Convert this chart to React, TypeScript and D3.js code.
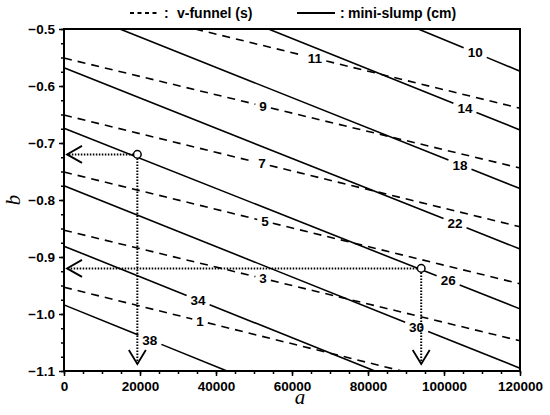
import React from 'react';
import * as d3 from 'd3';

const W = 550;
const H = 415;

const xTicks = [0, 20000, 40000, 60000, 80000, 100000, 120000];
const yTicks = [-0.5, -0.6, -0.7, -0.8, -0.9, -1.0, -1.1];

// mini-slump contours (cm), solid lines: start / end point of each, label position along a
const slumpLevels = [10, 14, 18, 22, 26, 30, 34, 38];
const slumpStartA = [93200, 53800, 14700, 0, 0, 0, 0, 0];
const slumpStartB = [-0.5, -0.5, -0.5, -0.568, -0.674, -0.775, -0.881, -0.984];
const slumpEndA = [120000, 120000, 120000, 120000, 120000, 120000, 81800, 42900];
const slumpEndB = [-0.574, -0.677, -0.780, -0.886, -0.991, -1.095, -1.1, -1.1];
const slumpLabelA = [108200, 105500, 104200, 102900, 101100, 92800, 35300, 22600];

// v-funnel contours (s), dashed lines
const funnelLevels = [11, 9, 7, 5, 3, 1];
const funnelStartA = [34500, 0, 0, 0, 0, 0];
const funnelStartB = [-0.5, -0.551, -0.651, -0.751, -0.853, -0.953];
const funnelEndA = [120000, 120000, 120000, 120000, 120000, 88900];
const funnelEndB = [-0.639, -0.744, -0.847, -0.947, -1.047, -1.1];
const funnelLabelA = [66000, 52400, 52100, 52900, 52400, 35800];

// design points, with dotted read-off lines to the axes
const pointA = [19300, 94000];
const pointB = [-0.72, -0.92];

const FONT = '"Liberation Sans", Arial, sans-serif';

export default function App() {
  const ref = React.useRef<SVGSVGElement>(null);

  React.useEffect(() => {
    const margin = { top: 29, right: 30, bottom: 44, left: 64 };
    const width = W - margin.left - margin.right;
    const height = H - margin.top - margin.bottom;

    const root = d3.select(ref.current);
    root.selectAll('*').remove();
    const svg = root.append('g')
      .attr('transform', `translate(${margin.left},${margin.top})`);

    const x = d3.scaleLinear().domain([0, 120000]).range([0, width]);
    const y = d3.scaleLinear().domain([-1.1, -0.5]).range([height, 0]);

    // minor ticks first
    svg.append('g')
      .attr('transform', `translate(0,${height})`)
      .call(d3.axisBottom(x).tickValues(d3.range(0, 120001, 5000)).tickSize(3).tickSizeOuter(0).tickFormat(() => ''))
      .call(g => g.select('.domain').remove())
      .selectAll('line').attr('stroke-width', 1.5);
    svg.append('g')
      .call(d3.axisLeft(y).tickValues(d3.range(0, 25).map(i => -1.1 + i * 0.025)).tickSize(3).tickSizeOuter(0).tickFormat(() => ''))
      .call(g => g.select('.domain').remove())
      .selectAll('line').attr('stroke-width', 1.5);

    // major ticks with labels
    const xAxis = svg.append('g')
      .attr('transform', `translate(0,${height})`)
      .call(d3.axisBottom(x).tickValues(xTicks).tickSize(5).tickSizeOuter(0).tickPadding(5).tickFormat(d3.format('d')));
    xAxis.select('.domain').remove();
    xAxis.selectAll('line').attr('stroke-width', 1.5);
    xAxis.selectAll('text')
      .attr('fill', 'black')
      .style('font-family', FONT)
      .style('font-weight', 'bold')
      .style('font-size', '13.5px');

    const yAxis = svg.append('g')
      .call(d3.axisLeft(y).tickValues(yTicks).tickSize(5).tickSizeOuter(0).tickPadding(4).tickFormat(d3.format('.1f')));
    yAxis.select('.domain').remove();
    yAxis.selectAll('line').attr('stroke-width', 1.5);
    yAxis.selectAll('text')
      .attr('fill', 'black')
      .style('font-family', FONT)
      .style('font-weight', 'bold')
      .style('font-size', '13.5px');

    // frame
    svg.append('rect')
      .attr('width', width)
      .attr('height', height)
      .attr('fill', 'none')
      .attr('stroke', 'black')
      .attr('stroke-width', 2);

    const plot = svg.append('g');
    const fs = 13.5;

    // line split round its label, like contour labels
    const drawContour = (a0, b0, a1, b1, la, level, dashed) => {
      const p0 = [x(a0), y(b0)];
      const p1 = [x(a1), y(b1)];
      const dx = p1[0] - p0[0];
      const lerp = (t) => [p0[0] + t * dx, p0[1] + t * (p1[1] - p0[1])];
      const t = (x(la) - p0[0]) / dx;
      const half = String(level).length * 0.556 * fs / 2 + 4;
      const t0 = t - half / dx;
      const t1 = t + half / dx;
      const segs = [[p0, lerp(t0)], [lerp(t1), p1]];
      segs.forEach(s => {
        plot.append('path')
          .attr('d', d3.line()(s))
          .attr('fill', 'none')
          .attr('stroke', 'black')
          .attr('stroke-width', 1.6)
          .attr('stroke-dasharray', dashed ? '8,6' : null);
      });
      const lp = lerp(t);
      plot.append('text')
        .attr('x', lp[0])
        .attr('y', lp[1])
        .attr('dy', '0.36em')
        .attr('text-anchor', 'middle')
        .attr('fill', 'black')
        .style('font-family', FONT)
        .style('font-weight', 'bold')
        .style('font-size', `${fs}px`)
        .text(level);
    };

    slumpLevels.forEach((lv, i) =>
      drawContour(slumpStartA[i], slumpStartB[i], slumpEndA[i], slumpEndB[i], slumpLabelA[i], lv, false));
    funnelLevels.forEach((lv, i) =>
      drawContour(funnelStartA[i], funnelStartB[i], funnelEndA[i], funnelEndB[i], funnelLabelA[i], lv, true));

    // dotted guides + arrow heads
    pointA.forEach((a, i) => {
      const px = x(a);
      const py = y(pointB[i]);
      plot.append('line')
        .attr('x1', px - 4).attr('y1', py)
        .attr('x2', 3).attr('y2', py)
        .attr('stroke', 'black')
        .attr('stroke-width', 2)
        .attr('stroke-dasharray', '1.5,1.5');
      plot.append('line')
        .attr('x1', px).attr('y1', py + 4)
        .attr('x2', px).attr('y2', height - 7)
        .attr('stroke', 'black')
        .attr('stroke-width', 2)
        .attr('stroke-dasharray', '1.5,1.5');
      plot.append('path')
        .attr('d', d3.line()([[18, py - 8.5], [3, py], [18, py + 8.5]]))
        .attr('fill', 'none')
        .attr('stroke', 'black')
        .attr('stroke-width', 1.8);
      plot.append('path')
        .attr('d', d3.line()([[px - 8.5, height - 21], [px, height - 7], [px + 8.5, height - 21]]))
        .attr('fill', 'none')
        .attr('stroke', 'black')
        .attr('stroke-width', 1.8);
      plot.append('circle')
        .attr('cx', px)
        .attr('cy', py)
        .attr('r', 3.8)
        .attr('fill', 'white')
        .attr('stroke', 'black')
        .attr('stroke-width', 1.5);
    });

    // axis titles
    root.append('text')
      .attr('x', 300)
      .attr('y', 404)
      .attr('text-anchor', 'middle')
      .style('font-family', '"Liberation Serif", "Times New Roman", serif')
      .style('font-style', 'italic')
      .style('font-size', '21px')
      .text('a');
    root.append('text')
      .attr('transform', `translate(20,${margin.top + height / 2}) rotate(-90)`)
      .attr('text-anchor', 'middle')
      .style('font-family', '"Liberation Serif", "Times New Roman", serif')
      .style('font-style', 'italic')
      .style('font-size', '21px')
      .text('b');

    // legend
    const legend = root.append('g')
      .style('font-family', FONT)
      .style('font-weight', 'bold')
      .style('font-size', '14px');
    legend.append('line')
      .attr('x1', 130).attr('x2', 158).attr('y1', 13).attr('y2', 13)
      .attr('stroke', 'black').attr('stroke-width', 2).attr('stroke-dasharray', '4,3.5');
    legend.append('text').attr('x', 164).attr('y', 18).text(':');
    legend.append('text').attr('x', 177).attr('y', 18).text('v-funnel (s)');
    legend.append('line')
      .attr('x1', 297).attr('x2', 335).attr('y1', 13).attr('y2', 13)
      .attr('stroke', 'black').attr('stroke-width', 2);
    legend.append('text').attr('x', 340).attr('y', 18).text(':');
    legend.append('text').attr('x', 348).attr('y', 18).text('mini-slump (cm)');
  }, []);

  return (
    <svg
      ref={ref}
      width={W}
      height={H}
      style={{ position: 'absolute', left: 0, top: 0, background: 'white' }}
    />
  );
}
